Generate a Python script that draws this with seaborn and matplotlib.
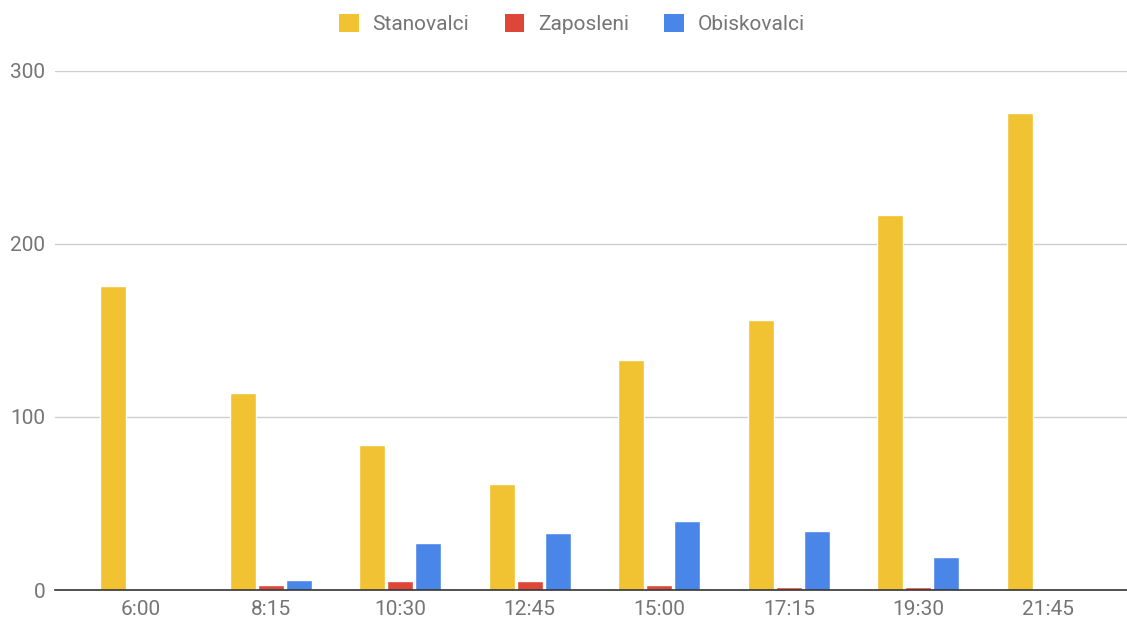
import matplotlib
matplotlib.use("Agg")
import matplotlib.pyplot as plt
import seaborn as sns
import pandas as pd
from matplotlib.patches import Patch

times = ["6:00", "8:15", "10:30", "12:45", "15:00", "17:15", "19:30", "21:45"]
stanovalci = [176, 114, 84, 61, 133, 156, 217, 276]
zaposleni = [0, 3, 5, 5, 3, 2, 2, 0]
obiskovalci = [0, 6, 27, 33, 40, 34, 19, 0]
series = ["Stanovalci", "Zaposleni", "Obiskovalci"]
colors = ["#F1C232", "#DE4637", "#4A86E8"]

rows = []
for name, vals in zip(series, [stanovalci, zaposleni, obiskovalci]):
    for t, v in zip(times, vals):
        rows.append({"time": t, "series": name, "value": v})
df = pd.DataFrame(rows)

sns.set_theme(style="white")
plt.rcParams['font.family'] = ['Roboto', 'DejaVu Sans']

fig = plt.figure(figsize=(11.27, 6.21), dpi=100)
ax = fig.add_axes([55/1127, 1 - 590/621, 1072/1127, (590 - 71)/621])

sns.barplot(data=df, x="time", y="value", hue="series", order=times,
            hue_order=series, palette=colors, width=0.648, gap=0.07,
            saturation=1, legend=False, ax=ax, errorbar=None)

ax.set_ylim(0, 300)
ax.set_xlim(-0.664, 7.61)
ax.set_yticks([0, 100, 200, 300])
ax.set_xlabel("")
ax.set_ylabel("")
ax.yaxis.grid(True, color="#CCCCCC", linewidth=1)
ax.set_axisbelow(True)
for s in ["top", "right", "left"]:
    ax.spines[s].set_visible(False)
ax.spines["bottom"].set_color("#333333")
ax.spines["bottom"].set_linewidth(1.2)
ax.tick_params(axis="both", length=0, labelsize=15, labelcolor="#757575")
ax.tick_params(axis="x", pad=7)
ax.tick_params(axis="y", pad=7)

handles = [Patch(facecolor=c, edgecolor="none", label=n) for c, n in zip(colors, series)]
fig.legend(handles=handles, loc="center", bbox_to_anchor=(572/1127, 1 - 24/621),
           ncol=3, frameon=False, fontsize=15, handlelength=0.95, handleheight=0.95,
           handletextpad=0.65, columnspacing=1.7, labelcolor="#757575")

fig.savefig("out.png", dpi=100)
